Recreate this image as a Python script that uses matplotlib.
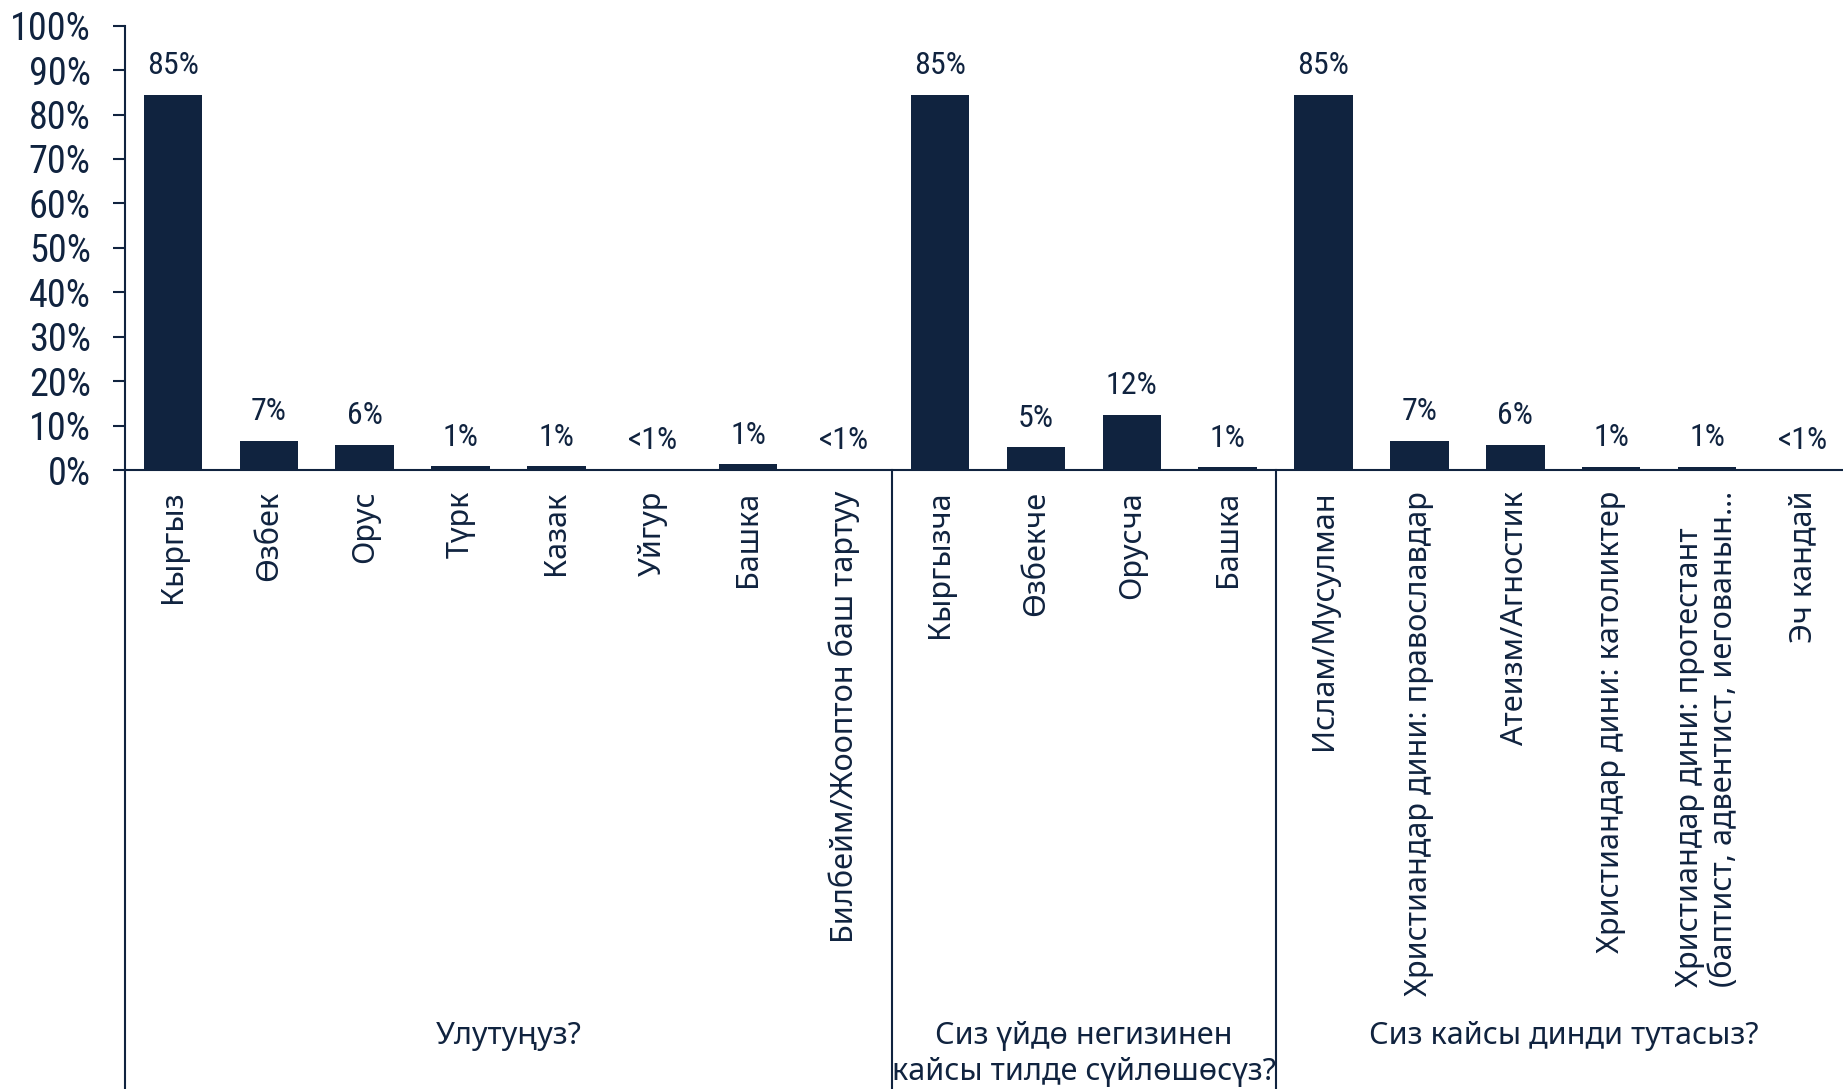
import matplotlib
matplotlib.use("Agg")
import matplotlib.pyplot as plt
from matplotlib import font_manager as fm
import numpy as np

# data
eth_labels = ["Кыргыз", "Өзбек", "Орус", "Түрк", "Казак", "Уйгур", "Башка",
              "Билбейм/Жооптон баш тартуу"]
eth_vals = [84.5, 6.6, 5.7, 0.8, 0.8, 0.1, 1.3, 0.1]
eth_text = ["85%", "7%", "6%", "1%", "1%", "<1%", "1%", "<1%"]

lang_labels = ["Кыргызча", "Өзбекче", "Орусча", "Башка"]
lang_vals = [84.5, 5.1, 12.4, 0.6]
lang_text = ["85%", "5%", "12%", "1%"]

rel_labels = ["Ислам/Мусулман", "Христиандар дини: православдар", "Атеизм/Агностик",
              "Христиандар дини: католиктер",
              "Христиандар дини: протестант\n(баптист, адвентист, иегованын…",
              "Эч кандай"]
rel_vals = [84.5, 6.6, 5.7, 0.7, 0.7, 0.1]
rel_text = ["85%", "7%", "6%", "1%", "1%", "<1%"]

group_titles = ["Улутуңуз?", "Сиз үйдө негизинен\nкайсы тилде сүйлөшөсүз?",
                "Сиз кайсы динди тутасыз?"]
group_sizes = [len(eth_labels), len(lang_labels), len(rel_labels)]

labels = eth_labels + lang_labels + rel_labels
vals = eth_vals + lang_vals + rel_vals
texts = eth_text + lang_text + rel_text

navy = "#10233F"
normal = ["Noto Sans", "DejaVu Sans"]

# numbers use a narrow face if one is installed
installed = {f.name for f in fm.fontManager.ttflist}
num_font, num_scale = ["Roboto", "DejaVu Sans"], 0.9
for cand in ["Liberation Sans Narrow", "Roboto Condensed", "DejaVu Sans Condensed"]:
    if cand in installed:
        num_font, num_scale = [cand, "DejaVu Sans"], 1.0
        break

fig = plt.figure(figsize=(18.43, 10.89), dpi=100)
ax = fig.add_axes([0.0678, 0.5684, 0.9365, 0.408])

x = np.arange(len(vals))
bars = ax.bar(x, vals, width=0.61, color=navy)
for b, t in zip(bars, texts):
    ax.annotate(t, (b.get_x() + b.get_width() / 2, b.get_height()),
                xytext=(0, 21), textcoords="offset points", ha="center", va="center",
                fontsize=23 * num_scale, family=num_font, color=navy)

ax.set_xlim(-0.5, len(vals) - 0.5)
ax.set_ylim(0, 100)
ax.set_yticks(np.arange(0, 101, 10))
ax.set_yticklabels([f"{v}%" for v in range(0, 101, 10)], family=num_font,
                   fontsize=27.5 * num_scale, color=navy)
ax.tick_params(axis="y", length=8.6, width=1.5, color=navy, pad=16)

ax.set_xticks(x)
ax.set_xticklabels(labels, rotation=90, fontsize=22, family=normal, color=navy,
                   va="top", ha="center", multialignment="left")
ax.tick_params(axis="x", length=0, pad=15)

for s in ["top", "right"]:
    ax.spines[s].set_visible(False)
for s in ["left", "bottom"]:
    ax.spines[s].set_color(navy)
    ax.spines[s].set_linewidth(1.5)

# group separators and y-axis extension down to the bottom
trans = ax.get_xaxis_transform()
bounds = np.cumsum([0] + group_sizes) - 0.5
for b in bounds[:-1]:
    ax.plot([b, b], [0, -1.45], transform=trans, color=navy, lw=1.5, clip_on=False)

for i, title in enumerate(group_titles):
    cx = (bounds[i] + bounds[i + 1]) / 2
    ax.text(cx, -1.24, title, transform=trans, ha="center", va="top",
            fontsize=22, family=normal, color=navy, linespacing=1.25)

fig.savefig("out.png", dpi=100)
